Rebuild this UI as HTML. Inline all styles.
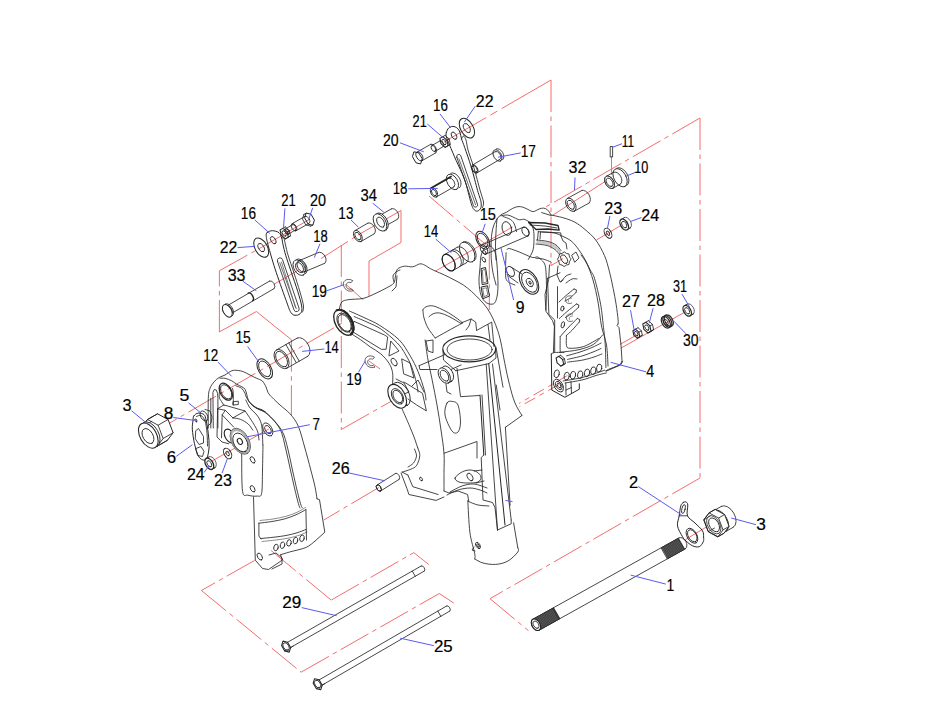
<!DOCTYPE html>
<html><head><meta charset="utf-8"><style>html,body{margin:0;padding:0;background:#fff;width:932px;height:720px;overflow:hidden}svg{display:block}</style></head>
<body>
<svg width="932" height="720" viewBox="0 0 932 720">
<rect width="932" height="720" fill="#fff"/>
<g stroke="#f46d6d" stroke-width="1" fill="none">
<line x1="551.0" y1="80.0" x2="444.0" y2="142.0" stroke-dasharray="57 5 8 5 200"/>
<line x1="551.0" y1="80.0" x2="551.0" y2="265.6" stroke-dasharray="32 4.5 4.5 4.5"/>
<line x1="551.0" y1="265.6" x2="563.0" y2="258.5" />
<line x1="700.0" y1="118.0" x2="544.0" y2="208.0" stroke-dasharray="32 4.5 4.5 4.5"/>
<line x1="700.0" y1="118.0" x2="700.0" y2="478.0" stroke-dasharray="32 4.5 4.5 4.5"/>
<line x1="700.0" y1="478.0" x2="490.0" y2="598.7" stroke-dasharray="32 4.5 4.5 4.5"/>
<line x1="490.0" y1="598.7" x2="528.5" y2="630.7" stroke-dasharray="32 4.5 4.5 4.5"/>
<line x1="685.3" y1="539.7" x2="716.3" y2="521.0" />
<line x1="612.0" y1="177.0" x2="552.4" y2="215.4" />
<line x1="611.5" y1="156.4" x2="611.5" y2="174.8" />
<line x1="627.5" y1="221.5" x2="596.4" y2="240.0" />
<line x1="619.9" y1="344.4" x2="637.2" y2="334.7" />
<line x1="620.8" y1="348.2" x2="687.5" y2="310.6" />
<line x1="219.4" y1="331.9" x2="219.4" y2="270.7" stroke-dasharray="32 4.5 4.5 4.5"/>
<line x1="219.4" y1="270.7" x2="261.0" y2="247.6" stroke-dasharray="32 4.5 4.5 4.5"/>
<line x1="261.0" y1="247.6" x2="310.0" y2="219.0" />
<line x1="219.4" y1="331.9" x2="256.4" y2="311.5" />
<line x1="256.4" y1="311.5" x2="291.4" y2="339.7" />
<line x1="291.4" y1="339.7" x2="291.4" y2="415.0" stroke-dasharray="32 4.5 4.5 4.5"/>
<line x1="273.9" y1="284.3" x2="299.1" y2="269.7" />
<line x1="321.0" y1="258.6" x2="358.0" y2="235.0" stroke-dasharray="32 4.5 4.5 4.5"/>
<line x1="358.0" y1="235.0" x2="401.0" y2="210.5" />
<line x1="401.0" y1="210.5" x2="401.0" y2="242.5" />
<line x1="401.0" y1="242.5" x2="369.0" y2="261.0" />
<line x1="369.0" y1="261.0" x2="369.0" y2="296.0" />
<line x1="341.3" y1="245.0" x2="341.3" y2="429.5" stroke-dasharray="32 4.5 4.5 4.5"/>
<line x1="341.3" y1="429.5" x2="400.0" y2="396.3" stroke-dasharray="32 4.5 4.5 4.5"/>
<line x1="345.8" y1="284.3" x2="363.3" y2="299.9" />
<line x1="369.1" y1="361.1" x2="380.0" y2="368.9" />
<line x1="149.0" y1="435.0" x2="344.0" y2="322.0" stroke-dasharray="32 4.5 4.5 4.5"/>
<line x1="429.0" y1="196.0" x2="489.3" y2="247.6" stroke-dasharray="32 4.5 4.5 4.5"/>
<line x1="489.3" y1="247.6" x2="489.3" y2="310.0" stroke-dasharray="32 4.5 4.5 4.5"/>
<line x1="435.4" y1="271.1" x2="512.5" y2="227.0" />
<line x1="209.9" y1="462.2" x2="268.8" y2="429.0" />
<line x1="378.8" y1="487.5" x2="323.8" y2="520.0" stroke-dasharray="32 4.5 4.5 4.5"/>
<line x1="567.3" y1="375.6" x2="519.0" y2="403.5" stroke-dasharray="12 5 5 5"/>
<line x1="558.7" y1="384.7" x2="519.5" y2="406.7" stroke-dasharray="12 5 5 5"/>
<line x1="254.6" y1="560.4" x2="201.4" y2="590.5" stroke-dasharray="32 4.5 4.5 4.5"/>
<line x1="201.4" y1="590.5" x2="301.1" y2="672.2" stroke-dasharray="32 4.5 4.5 4.5"/>
<line x1="301.1" y1="672.2" x2="439.3" y2="593.5" stroke-dasharray="32 4.5 4.5 4.5"/>
<line x1="439.3" y1="593.5" x2="453.8" y2="603.1" />
<line x1="271.1" y1="550.5" x2="331.2" y2="600.1" stroke-dasharray="32 4.5 4.5 4.5"/>
<line x1="331.2" y1="600.1" x2="413.8" y2="552.6" stroke-dasharray="32 4.5 4.5 4.5"/>
<line x1="413.8" y1="552.6" x2="428.8" y2="564.6" />
</g>
<g stroke="#262626" stroke-width="0.85" fill="none" stroke-linejoin="round" stroke-linecap="round">
<path d="M339.4,309.1 C339.8,307.9 340.2,303.6 341.8,302.0 C343.4,300.4 345.3,300.2 348.9,299.6 C352.4,299.0 358.8,299.4 363.1,298.4 C367.4,297.4 371.0,295.5 374.9,293.7 C378.8,291.9 383.5,289.6 386.7,287.8 C389.9,286.0 392.3,285.1 393.8,283.1 C395.3,281.1 394.9,278.3 395.5,276.0 C396.1,273.7 395.9,270.8 397.4,269.2 C398.9,267.6 401.8,266.6 404.4,266.2 C406.9,265.8 410.1,267.2 412.7,266.8 C415.3,266.4 417.8,264.2 419.8,263.9 C421.8,263.6 422.9,264.3 424.5,265.0 C426.1,265.7 427.4,267.0 429.2,268.0 C431.0,269.0 432.5,269.7 435.1,270.9 C437.7,272.1 441.5,273.6 444.6,275.1 C447.8,276.6 450.9,278.1 454.0,279.8 C457.1,281.5 460.6,283.1 463.5,285.1 C466.4,287.1 468.9,289.2 471.7,291.6 C474.4,294.1 477.4,297.1 480.0,299.8 C482.6,302.6 484.9,305.0 487.1,308.1 C489.3,311.2 491.2,315.0 493.0,318.7 C494.8,322.4 496.4,326.6 497.7,330.5 C499.0,334.4 499.6,336.5 500.8,342.0 C502.0,347.5 503.4,356.3 504.8,363.4 C506.2,370.5 507.8,378.1 509.5,384.7 C511.2,391.3 512.9,397.9 515.0,403.0 C517.1,408.1 520.8,413.4 521.9,415.5" />
<path d="M394.0,282.0 C393.8,281.0 392.7,277.7 393.0,276.0 C393.3,274.3 394.8,273.0 396.0,272.0 C397.2,271.0 399.3,270.3 400.0,270.0" />
<path d="M397.0,276.0 L396.0,287.0 L392.0,291.0" />
<ellipse cx="343.8" cy="322.4" rx="14.0" ry="8.4" transform="rotate(60 343.8 322.4)" stroke-width="1.3"/>
<path d="M350.8,334.5 A14,8.4 60 0 0 336.8,310.3" stroke-width="2.2"/>
<ellipse cx="344.4" cy="322.7" rx="10.5" ry="6.3" transform="rotate(60 344.4 322.7)" />
<ellipse cx="344.6" cy="323.0" rx="9.2" ry="5.5" transform="rotate(60 344.6 323.0)" />
<path d="M349.4,311.0 C352.0,312.2 359.9,315.6 365.0,318.0 C370.1,320.4 374.0,321.8 379.7,325.4 C385.4,329.0 393.9,334.6 399.0,339.7 C404.1,344.8 406.9,350.4 410.1,355.7 C413.3,361.0 415.7,365.8 418.1,371.7 C420.5,377.6 423.2,386.2 424.5,390.9 C425.8,395.6 425.8,398.5 426.0,400.0" />
<path d="M350.0,333.0 C351.8,334.1 357.3,337.5 360.7,339.8 C364.1,342.1 366.8,344.5 370.2,346.9 C373.6,349.2 377.6,351.1 380.8,353.9 C384.0,356.6 387.1,360.2 389.1,363.4 C391.1,366.5 392.0,369.4 392.6,372.8 C393.2,376.2 392.6,382.1 392.6,384.0" />
<path d="M354.2,316.6 C356.5,317.6 363.5,320.4 368.0,322.5 C372.5,324.6 376.4,325.9 381.3,329.3 C386.2,332.7 393.3,338.9 397.3,343.0 C401.3,347.1 402.9,350.1 405.3,354.1 C407.7,358.1 409.8,362.1 411.7,366.9 C413.6,371.7 415.4,378.7 416.5,382.9 C417.6,387.1 417.8,390.5 418.0,392.0" />
<path d="M354.2,321.4 L384.5,335.0 L387.7,337.0 L386.1,349.3 L381.3,349.3 L352.6,331.7 Z" />
<path d="M391.0,341.3 L399.0,351.0 L389.3,355.8 Z" />
<ellipse cx="394.1" cy="362.1" rx="4.2" ry="2.4" transform="rotate(60 394.1 362.1)" />
<path d="M402.0,359.0 L410.0,363.0 L414.0,378.0 L404.0,374.0 Z" />
<path d="M396.0,379.0 L404.0,383.0 L409.0,392.0 L404.0,394.0" />
<ellipse cx="401.0" cy="394.2" rx="13.0" ry="7.8" transform="rotate(60 401.0 394.2)" />
<line x1="403.1" y1="406.4" x2="406.9" y2="404.3" />
<ellipse cx="397.2" cy="396.3" rx="13.0" ry="7.8" transform="rotate(60 397.2 396.3)" stroke-width="1.1" fill="#fff"/>
<ellipse cx="397.5" cy="396.4" rx="8.5" ry="5.2" transform="rotate(60 397.5 396.4)" />
<ellipse cx="397.8" cy="396.5" rx="6.8" ry="4.1" transform="rotate(60 397.8 396.5)" />
<path d="M404.0,382.0 L422.5,393.3 L426.4,410.9 L416.7,405.0 L408.0,399.0" />
<path d="M412.0,386.0 L418.0,380.0 L424.0,392.0" />
<path d="M402.1,408.9 C403.2,411.5 406.9,419.8 408.9,424.5 C410.9,429.2 412.5,433.1 414.0,437.0 C415.5,440.9 417.1,446.0 417.7,447.8" />
<path d="M417.7,447.8 C418.1,449.1 420.0,452.7 419.8,455.6 C419.6,458.5 418.2,463.0 416.7,465.3 C415.2,467.6 413.3,468.1 410.9,469.2 C408.5,470.3 403.6,471.6 402.1,472.1" />
<path d="M414.5,449.0 C414.8,450.2 416.7,453.7 416.5,456.0 C416.3,458.3 414.9,461.2 413.5,463.0 C412.1,464.8 408.9,466.3 408.0,467.0" />
<path d="M401.1,473.1 L407.0,488.7 L408.9,494.5 L436.1,500.4 L444.0,497.0" />
<path d="M407.9,475.1 L412.8,486.7 L438.1,494.5" />
<path d="M402.1,472.1 L407.9,475.1" />
<ellipse cx="421.0" cy="479.0" rx="2.0" ry="1.2" transform="rotate(60 421.0 479.0)" />
<path d="M425.1,340.0 C425.6,343.3 426.8,353.3 428.0,360.0 C429.2,366.7 430.7,372.6 432.2,380.1 C433.7,387.6 435.5,396.7 437.0,405.0 C438.5,413.3 439.8,421.9 441.0,430.0 C442.2,438.1 443.5,446.3 444.0,453.3 C444.5,460.3 444.0,465.9 444.0,472.2 C444.0,478.5 444.0,487.9 444.0,491.0" />
<path d="M444.0,453.3 L477.0,441.5 L477.0,458.0" />
<path d="M444.0,491.0 L449.0,493.0 L458.1,491.0 L467.6,494.5 L468.8,501.6" />
<path d="M457.0,368.3 L460.5,396.7 L479.4,395.5" />
<line x1="480.0" y1="395.0" x2="483.8" y2="455.0" stroke-width="1"/>
<line x1="482.0" y1="395.0" x2="485.5" y2="455.0" />
<path d="M483.8,455.0 L481.2,457.5 L483.0,500.0 L492.5,502.5 L495.0,507.5 L497.5,530.0" />
<line x1="486.2" y1="364.0" x2="497.5" y2="530.0" />
<line x1="488.8" y1="364.0" x2="505.0" y2="525.0" stroke-width="1"/>
<line x1="492.5" y1="364.0" x2="511.2" y2="520.0" />
<path d="M497.5,530.0 L511.2,523.8 L511.2,520.0" />
<path d="M496.2,385.0 L500.0,410.0" />
<path d="M496.0,347.1 L503.0,387.2" />
<path d="M505.4,427.3 L521.9,415.5" />
<path d="M505.4,427.3 L510.1,505.3" />
<path d="M467.8,500.6 C468.1,505.9 468.8,523.5 469.9,532.3 C471.0,541.1 473.9,549.2 474.7,553.6 C475.5,558.0 474.7,558.0 474.7,558.9" />
<path d="M474.7,558.9 C476.1,559.6 479.5,562.1 483.0,563.0 C486.5,563.9 491.4,564.7 495.6,564.4 C499.8,564.1 504.3,563.1 508.0,561.0 C511.7,558.9 516.2,554.2 517.8,552.0 C519.4,549.8 517.8,548.5 517.8,547.8" />
<path d="M517.8,547.8 L513.6,522.8" />
<path d="M468.8,501.6 C470.3,502.2 474.6,504.3 478.0,505.0 C481.4,505.7 487.1,505.8 488.9,506.0" />
<path d="M455.0,478.0 C455.5,476.3 459.5,473.3 462.0,472.0 C464.5,470.7 467.5,470.0 470.0,470.0 C472.5,470.0 475.2,470.8 477.0,472.0 C478.8,473.2 480.8,475.3 481.0,477.0 C481.2,478.7 480.2,481.0 478.0,482.0 C475.8,483.0 471.2,483.0 468.0,483.0 C464.8,483.0 461.2,482.8 459.0,482.0 C456.8,481.2 454.5,479.7 455.0,478.0 Z" />
<ellipse cx="470.0" cy="477.0" rx="4.2" ry="2.4" transform="rotate(60 470.0 477.0)" />
<line x1="474.0" y1="471.0" x2="482.0" y2="470.0" />
<line x1="476.0" y1="483.0" x2="484.0" y2="481.0" />
<path d="M447.0,495.0 C448.8,494.2 454.2,491.2 458.0,490.0 C461.8,488.8 466.3,488.0 470.0,488.0 C473.7,488.0 477.2,489.2 480.0,490.0 C482.8,490.8 485.8,492.5 487.0,493.0" />
<path d="M450.0,492.0 C452.0,491.0 458.0,487.3 462.0,486.0 C466.0,484.7 469.8,483.7 474.0,484.0 C478.2,484.3 484.8,487.3 487.0,488.0" />
<ellipse cx="478.0" cy="545.5" rx="3.5" ry="2.0" transform="rotate(60 478.0 545.5)" />
<ellipse cx="478.0" cy="545.5" rx="1.8" ry="1.0" transform="rotate(60 478.0 545.5)" />
<path d="M474.0,547.0 L472.0,550.0 L475.0,551.0" />
<path d="M447.0,403.0 C448.2,400.7 450.2,401.1 452.0,401.4 C453.8,401.7 456.6,401.6 458.0,405.0 C459.4,408.4 460.5,417.5 460.5,422.0 C460.5,426.5 459.4,430.5 458.0,432.0 C456.6,433.5 454.2,433.8 452.0,431.0 C449.8,428.2 445.8,419.7 445.0,415.0 C444.2,410.3 445.8,405.3 447.0,403.0 Z" />
<ellipse cx="469.2" cy="348.9" rx="26.4" ry="13.0" stroke-width="1.1"/>
<ellipse cx="469.6" cy="349.5" rx="22.5" ry="10.5" />
<path d="M443.0,350.0 L443.5,360.0 L455.8,370.7" />
<path d="M495.6,349.0 L496.0,358.0 L488.9,363.6" />
<path d="M455.8,370.7 L488.9,363.6" />
<path d="M422.9,309.9 C423.4,309.4 424.2,307.4 426.0,306.8 C427.8,306.2 430.3,305.2 433.6,306.0 C436.9,306.8 442.3,309.6 445.9,311.4 C449.5,313.2 452.2,315.1 455.0,317.0 C457.8,318.9 461.4,321.9 462.7,322.9" />
<path d="M429.0,316.8 C429.7,316.3 431.2,314.4 433.0,313.8 C434.8,313.2 437.0,312.5 439.8,313.0 C442.6,313.5 446.5,315.2 450.0,317.0 C453.5,318.8 459.2,322.4 461.0,323.5" />
<path d="M422.9,309.9 C423.1,311.2 423.1,315.0 424.0,318.0 C424.9,321.0 426.1,324.7 428.0,328.0 C429.9,331.3 434.0,336.3 435.2,338.0" />
<path d="M435.2,338.0 C437.0,337.0 442.7,333.8 446.0,332.0 C449.3,330.2 452.2,328.5 455.0,327.0 C457.8,325.5 461.4,323.6 462.7,322.9" />
<path d="M461.2,322.9 L471.1,319.0 L475.7,322.1 L476.5,329.8" />
<path d="M471.1,319.0 L469.0,326.0 L466.0,330.0" />
<path d="M426.0,341.0 L433.0,340.0 L433.0,352.7 L428.0,351.0 L426.0,341.0" />
<path d="M476.5,330.5 L491.7,322.1 L494.0,346.6" />
<path d="M488.0,324.5 L490.0,340.0" />
<path d="M419.1,365.7 L445.9,354.2" />
<path d="M419.1,365.7 L419.9,369.5 L437.0,369.5" />
<path d="M451.0,369.5 L461.2,364.9" />
<ellipse cx="447.5" cy="373.8" rx="8.5" ry="5.2" transform="rotate(60 447.5 373.8)" />
<line x1="448.6" y1="383.0" x2="451.8" y2="381.2" />
<ellipse cx="444.3" cy="375.6" rx="8.5" ry="5.2" transform="rotate(60 444.3 375.6)" fill="#fff"/>
<ellipse cx="444.5" cy="375.7" rx="6.0" ry="3.6" transform="rotate(60 444.5 375.7)" />
<path d="M446.0,384.0 L447.0,392.0 L451.0,394.0" />
<path d="M491.0,245.0 C491.1,243.1 491.3,237.2 491.8,233.8 C492.3,230.4 492.8,227.7 494.0,224.8 C495.2,221.9 497.2,218.3 499.3,216.2 C501.4,214.1 504.6,213.3 506.8,212.0 C509.1,210.7 510.9,209.2 512.8,208.3 C514.7,207.4 516.5,206.8 518.1,206.6 C519.7,206.4 521.1,206.7 522.6,207.1 C524.1,207.5 525.6,208.3 527.1,209.0 C528.6,209.7 530.4,210.9 531.6,211.3 C532.9,211.7 533.4,211.7 534.6,211.3 C535.9,210.9 537.6,209.5 539.1,209.0 C540.6,208.5 542.2,208.0 543.6,208.1 C545.0,208.2 546.3,209.0 547.4,209.8 C548.5,210.6 549.4,212.2 550.0,213.1 C550.6,214.0 550.9,214.7 551.1,215.0" />
<path d="M541.7,212.6 L551.0,215.5" />
<path d="M551.1,215.0 C552.2,215.2 555.9,216.0 558.0,216.5 C560.1,217.0 561.2,217.1 564.0,218.0 C566.8,218.9 571.0,220.1 574.5,222.0 C578.0,223.9 581.5,226.5 585.0,229.5 C588.5,232.5 592.5,235.7 595.7,240.0 C599.0,244.3 602.2,250.4 604.5,255.6 C606.8,260.8 607.8,265.6 609.3,271.1 C610.8,276.6 612.1,283.1 613.2,288.6 C614.3,294.1 615.3,299.0 616.1,304.2 C616.9,309.4 617.8,316.5 618.1,319.8 C618.4,323.1 618.0,323.3 618.0,324.0" />
<path d="M618.0,324.0 L617.1,325.6 L619.0,327.5 L621.0,345.0 L622.0,360.6 L621.0,363.5 L618.1,365.6 L608.7,369.3 L605.5,371.0" />
<path d="M500.8,215.8 C501.9,215.7 505.5,214.8 507.5,215.0 C509.5,215.2 511.0,216.2 512.8,216.9 C514.6,217.7 516.7,219.0 518.1,219.5 C519.5,220.0 520.1,219.8 521.1,219.7 C522.1,219.6 523.0,219.0 524.1,219.2 C525.2,219.4 526.7,220.3 527.8,221.0 C528.9,221.7 529.9,222.1 530.8,223.3 C531.7,224.6 532.6,226.4 533.1,228.5 C533.6,230.6 534.0,232.5 534.0,236.0 C534.0,239.5 534.1,245.8 533.1,249.7 C532.1,253.6 529.1,257.8 528.3,259.4" />
<path d="M541.7,232.0 C543.8,232.2 550.6,232.2 554.3,233.0 C558.0,233.8 561.1,235.5 564.0,236.9 C566.9,238.3 569.4,239.4 571.8,241.5 C574.2,243.6 576.4,246.5 578.6,249.5 C580.8,252.5 583.1,256.1 585.0,259.5 C586.9,262.9 588.6,266.8 590.2,270.0 C591.8,273.2 593.0,273.2 594.7,278.9 C596.4,284.6 599.1,296.1 600.6,304.2 C602.1,312.3 602.9,322.3 603.5,327.5 C604.1,332.7 604.2,331.6 604.5,335.3 C604.8,339.1 605.3,344.6 605.5,350.0 C605.7,355.4 605.8,364.6 605.9,367.5" />
<path d="M581.0,255.0 C582.0,256.5 585.0,259.8 587.0,264.0 C589.0,268.2 591.2,273.7 593.0,280.0 C594.8,286.3 596.6,294.3 598.0,302.0 C599.4,309.7 600.1,318.8 601.5,326.0 C602.9,333.2 605.4,338.3 606.5,345.0 C607.6,351.7 607.8,362.5 608.0,366.0" />
<path d="M528.6,222.5 L545.0,223.0 L558.0,225.5 L559.2,230.1 L548.0,229.0 L536.0,229.5 Z" stroke-width="1.3"/>
<path d="M530.0,225.0 L545.0,226.0 L557.0,228.0" />
<path d="M553.4,352.5 L554.4,326.2 L552.5,320.6 L545.9,311.2 L545.0,294.4 L548.7,279.4 L549.5,265.0" />
<path d="M551.3,354.0 L551.8,390.1 L564.9,397.3 L579.3,389.2 L579.3,383.8" stroke-width="1"/>
<path d="M551.3,354.0 C551.8,353.8 552.5,352.9 554.0,352.6 C555.5,352.3 558.3,352.4 560.0,352.4 C561.7,352.4 563.3,352.6 564.0,352.6" />
<path d="M566.7,355.8 C568.9,355.2 575.8,353.4 580.0,352.0 C584.2,350.6 588.5,349.0 592.0,347.5 C595.5,346.0 599.5,343.8 601.0,343.1" />
<path d="M567.6,359.4 C570.0,358.8 577.8,357.2 582.0,356.0 C586.2,354.8 589.8,353.2 593.0,352.0 C596.2,350.8 599.7,349.1 601.0,348.5" />
<path d="M567.6,362.1 C570.2,361.8 578.6,360.9 583.0,360.0 C587.4,359.1 590.9,358.0 594.0,357.0 C597.1,356.0 600.6,354.5 601.9,354.0" />
<path d="M563.1,381.0 C565.9,380.5 574.7,379.2 580.0,378.0 C585.3,376.8 590.9,374.8 595.0,373.5 C599.1,372.2 603.0,370.8 604.6,370.2" />
<path d="M565.0,383.0 C567.8,382.5 576.8,381.2 582.0,380.0 C587.2,378.8 591.9,376.7 596.0,375.5 C600.1,374.3 604.7,373.3 606.4,372.9" />
<path d="M606.4,371.1 L620.8,364.8 L622.7,361.2" />
<path d="M565.8,382.9 L566.0,395.0" />
<path d="M571.0,381.5 L571.5,393.5" />
<path d="M566.0,390.0 L571.5,387.5" />
<ellipse cx="556.7" cy="373.8" rx="2.6" ry="3.9" transform="rotate(12 556.7 373.8)"/>
<ellipse cx="566.7" cy="376.1" rx="2.6" ry="3.9" transform="rotate(12 566.7 376.1)"/>
<ellipse cx="573" cy="375.2" rx="2.6" ry="3.9" transform="rotate(12 573 375.2)"/>
<ellipse cx="580.2" cy="374.7" rx="2.6" ry="3.9" transform="rotate(12 580.2 374.7)"/>
<ellipse cx="587" cy="372.9" rx="2.6" ry="3.9" transform="rotate(12 587 372.9)"/>
<ellipse cx="593.3" cy="370.7" rx="2.6" ry="3.9" transform="rotate(12 593.3 370.7)"/>
<ellipse cx="599.2" cy="368" rx="2.6" ry="3.9" transform="rotate(12 599.2 368)"/>
<path d="M563.7,364.5 L562.7,359.6 L558.9,356.3 L556.1,357.9 L557.1,362.8 L560.9,366.1 Z" stroke-width="1.1"/>
<path d="M562.6,365.1 L565.4,363.5 L564.4,358.6 L560.6,355.3" />
<line x1="560.9" y1="366.1" x2="562.6" y2="365.1" />
<line x1="563.7" y1="364.5" x2="565.4" y2="363.5" />
<line x1="562.7" y1="359.6" x2="564.4" y2="358.6" />
<line x1="558.9" y1="356.3" x2="560.6" y2="355.3" />
<ellipse cx="558.5" cy="385.6" rx="7.0" ry="4.2" transform="rotate(60 558.5 385.6)" />
<ellipse cx="558.8" cy="385.5" rx="4.5" ry="2.7" transform="rotate(60 558.8 385.5)" />
<ellipse cx="559.0" cy="385.4" rx="2.5" ry="1.5" transform="rotate(60 559.0 385.4)" />
<path d="M538.3,231.7 L560.8,232.9 L561.0,236.0" />
<path d="M538.3,231.7 L537.5,240.0" />
<path d="M540.5,232.0 L540.0,239.0" />
<path d="M536.5,240.0 C538.4,240.2 544.8,240.7 548.0,241.5 C551.2,242.3 553.8,243.5 556.0,245.0 C558.2,246.5 560.2,249.6 561.0,250.5" />
<path d="M536.0,244.0 C537.8,244.2 543.8,244.6 547.0,245.5 C550.2,246.4 552.9,248.0 555.0,249.5 C557.1,251.0 558.8,253.7 559.5,254.5" />
<path d="M537.0,241.0 C538.8,241.2 544.8,241.6 548.0,242.5 C551.2,243.4 553.9,244.8 556.0,246.3 C558.1,247.8 559.8,250.6 560.5,251.5" stroke="#999" stroke-width="0.5"/>
<path d="M537.0,241.8 C538.8,242.1 544.8,242.4 548.0,243.3 C551.2,244.2 553.9,245.6 556.0,247.1 C558.1,248.6 559.8,251.4 560.5,252.3" stroke="#999" stroke-width="0.5"/>
<path d="M537.0,242.6 C538.8,242.8 544.8,243.2 548.0,244.1 C551.2,245.0 553.9,246.4 556.0,247.9 C558.1,249.4 559.8,252.2 560.5,253.1" stroke="#999" stroke-width="0.5"/>
<path d="M537.0,243.4 C538.8,243.7 544.8,244.0 548.0,244.9 C551.2,245.8 553.9,247.2 556.0,248.7 C558.1,250.2 559.8,253.0 560.5,253.9" stroke="#999" stroke-width="0.5"/>
<path d="M535.8,258.3 C537.0,258.4 540.5,258.4 543.0,259.0 C545.5,259.6 549.7,261.5 551.0,262.0" />
<path d="M561.0,236.0 L563.0,241.0 L566.0,243.0 L567.0,249.0" />
<path d="M547.5,278.3 L548.9,314.4 L554.7,320.0 L554.7,351.9" />
<path d="M547.5,278.3 L560.0,272.8" />
<path d="M557.5,286.7 L557.5,318.0" />
<path d="M560.2,336.6 C561.5,335.2 564.9,331.1 567.8,328.1 C570.6,325.0 575.7,320.1 577.3,318.5" />
<path d="M566.2,335.6 C567.2,334.7 570.1,332.3 572.2,330.1 C574.4,327.8 578.1,323.3 579.3,322.0" />
<path d="M577.3,318.5 L579.8,319.5 L579.3,322.0" />
<path d="M559.3,318.5 C560.6,317.4 564.0,314.2 566.8,311.8 C569.7,309.3 574.8,305.3 576.4,304.0" />
<path d="M565.3,317.5 C566.3,316.9 569.2,315.4 571.3,313.8 C573.5,312.1 577.2,308.5 578.4,307.5" />
<path d="M576.4,304.0 L578.9,305.0 L578.4,307.5" />
<path d="M559.0,302.0 C560.1,301.0 563.0,298.2 565.5,296.0 C568.0,293.8 572.6,290.2 574.0,289.0" />
<path d="M565.0,301.0 C565.8,300.5 568.2,299.4 570.0,298.0 C571.8,296.6 575.0,293.4 576.0,292.5" />
<path d="M574.0,289.0 L576.5,290.0 L576.0,292.5" />
<path d="M566.5,335.7 C566.5,337.4 565.9,343.5 566.5,345.6 C567.1,347.7 567.2,348.2 570.1,348.3 C573.0,348.4 578.9,348.1 583.7,346.5 C588.5,344.9 596.5,339.8 599.0,338.4" />
<path d="M560.2,336.6 C560.2,339.0 560.0,348.4 560.2,351.0 C560.4,353.6 558.4,352.2 561.5,352.0 C564.6,351.8 573.8,350.9 579.1,349.6 C584.5,348.3 589.7,346.7 593.6,344.3 C597.5,341.9 601.1,336.6 602.6,335.0" />
<path d="M572.6,314 C567.6,313 565.6,316 566.6,319 C567.6,322 570.6,322 572.6,321" stroke="#555"/>
<path d="M572.6,316 C569.6,316 568.6,318 569.6,320" stroke="#777"/>
<path d="M571.7,296 C566.7,295 564.7,298 565.7,301 C566.7,304 569.7,304 571.7,303" stroke="#555"/>
<path d="M571.7,298 C568.7,298 567.7,300 568.7,302" stroke="#777"/>
<ellipse cx="562.9" cy="324.8" rx="1.6" ry="3.2" transform="rotate(15 562.9 324.8)"/>
<ellipse cx="562.4" cy="308.5" rx="1.5" ry="2.6" transform="rotate(15 562.4 308.5)"/>
<path d="M561.0,282.0 C561.8,281.0 564.3,277.3 566.0,276.0 C567.7,274.7 570.2,274.3 571.0,274.0" />
<path d="M566.0,283.0 C567.0,282.3 570.2,279.7 572.0,279.0 C573.8,278.3 576.2,279.0 577.0,279.0" />
<path d="M570.9,259.2 L569.5,261.6 L568.9,264.5 L566.4,265.0 L564.2,266.6 L562.0,265.0 L559.5,264.5 L558.9,261.6 L557.5,259.2 L558.9,256.8 L559.5,253.9 L562.0,253.4 L564.2,251.8 L566.4,253.4 L568.9,253.9 L569.5,256.8 Z" />
<ellipse cx="564.2" cy="259.2" rx="4.8" ry="2.8" transform="rotate(60 564.2 259.2)" />
<path d="M558.0,266.0 L557.0,275.0 L560.0,282.0 L563.0,280.0" />
<path d="M572.0,255.0 L576.0,252.0 L579.0,258.0 L575.0,262.0 Z" />
<path d="M491.0,245.0 C491.1,247.4 491.0,254.8 491.3,259.4 C491.6,263.9 492.1,268.0 492.9,272.3 C493.7,276.6 495.6,283.0 496.1,285.1" />
<path d="M497.0,218.8 C496.8,221.0 496.2,227.6 496.0,232.0 C495.8,236.4 495.5,240.3 495.5,245.0 C495.5,249.7 495.9,257.5 496.0,260.0" />
<path d="M503.0,216.5 C504.2,217.0 508.6,218.2 510.5,219.5 C512.4,220.8 513.3,222.0 514.3,224.0 C515.3,226.0 516.1,230.3 516.5,231.6" />
<ellipse cx="506.8" cy="228.5" rx="4.6" ry="7" transform="rotate(-15 506.8 228.5)"/>
<path d="M507.2,249.6 C507.6,249.4 507.2,248.1 509.3,248.5 C511.4,248.9 515.9,250.7 519.7,252.2 C523.5,253.7 529.2,256.6 532.2,257.4 C535.2,258.2 535.9,256.5 537.4,256.9 C538.9,257.3 540.3,258.8 541.5,260.0 C542.7,261.2 544.0,262.2 544.7,264.2 C545.5,266.2 545.7,267.7 546.0,272.0 C546.3,276.3 546.5,283.7 546.5,290.0 C546.5,296.3 546.1,306.7 546.0,310.0" />
<path d="M506.1,252.7 C506.0,256.5 505.2,270.7 505.6,275.6 C506.0,280.5 506.6,280.3 508.2,281.9 C509.8,283.5 513.9,284.5 515.0,285.0" />
<line x1="486.5" y1="253.8" x2="528.1" y2="235.9" />
<line x1="481.5" y1="245.2" x2="523.1" y2="227.3" />
<ellipse cx="484.0" cy="249.5" rx="5.0" ry="3.2" transform="rotate(60 484.0 249.5)" />
<path d="M528.1,235.9 A5.0,3.2 60 0 0 523.1,227.3" />
<ellipse cx="525.6" cy="231.6" rx="5.0" ry="3.2" transform="rotate(60 525.6 231.6)" />
<line x1="511.0" y1="267.0" x2="522.0" y2="274.0" />
<line x1="507.0" y1="275.0" x2="518.0" y2="283.0" />
<ellipse cx="510.5" cy="271.5" rx="5.5" ry="3.5" transform="rotate(60 510.5 271.5)" />
<ellipse cx="529.0" cy="281.9" rx="13.4" ry="8.2" transform="rotate(60 529.0 281.9)" stroke-width="1.1"/>
<ellipse cx="529.5" cy="282.3" rx="11.0" ry="6.6" transform="rotate(60 529.5 282.3)" />
<ellipse cx="529.8" cy="282.5" rx="4.5" ry="3.0" transform="rotate(60 529.8 282.5)" />
<ellipse cx="530.0" cy="282.6" rx="1.5" ry="1.0" transform="rotate(60 530.0 282.6)" />
<path d="M484.3,248.5 C482.8,250.2 481.7,253.0 481.0,256.0 C480.3,259.0 480.4,262.0 480.1,266.3 C479.8,270.6 478.8,277.0 479.0,281.9 C479.2,286.8 479.9,291.9 481.1,295.4 C482.3,298.9 484.2,301.3 486.3,302.7 C488.4,304.1 491.9,304.7 493.6,303.8 C495.4,302.9 496.1,300.6 496.8,297.5 C497.5,294.4 498.0,290.4 498.0,285.0 C498.0,279.6 497.5,270.5 497.0,265.0 C496.5,259.5 496.2,255.2 495.0,252.0 C493.8,248.8 491.8,246.6 490.0,246.0 C488.2,245.4 485.8,246.8 484.3,248.5 Z" />
<path d="M481.5,268.5 L485.5,267.5 L488.0,283.5 L482.5,284.5 Z" stroke-width="1"/>
<path d="M482.8,270.0 L485.0,269.5 L486.6,282.0 L483.5,282.8 Z" stroke="#666"/>
<path d="M481.5,287.0 L487.5,285.8 L489.5,296.0 L483.5,298.5 Z" stroke-width="1"/>
<path d="M483.0,288.5 L486.5,287.8 L487.8,295.0 L484.5,296.5 Z" stroke="#666"/>
<ellipse cx="483.8" cy="259.7" rx="2.6" ry="1.5" transform="rotate(60 483.8 259.7)" />
<ellipse cx="484.5" cy="252.5" rx="2.2" ry="1.3" transform="rotate(60 484.5 252.5)" />
<path d="M208.3,428.0 C208.3,423.1 208.0,404.9 208.3,398.3 C208.6,391.7 209.0,391.1 210.0,388.3 C211.0,385.5 212.7,383.5 214.2,381.7 C215.7,379.9 217.4,378.6 219.2,377.5 C221.0,376.4 222.9,376.1 225.0,375.0 C227.1,373.9 229.6,371.6 231.7,370.8 C233.8,370.0 235.6,370.2 237.5,370.4 C239.4,370.5 241.2,370.9 243.3,371.7 C245.4,372.5 247.8,373.9 250.0,375.0 C252.2,376.1 254.6,377.3 256.7,378.3 C258.8,379.3 260.8,379.6 262.3,381.0 C263.9,382.4 265.0,384.9 266.0,386.9 C267.0,388.8 267.0,390.9 268.1,392.7 C269.2,394.5 270.5,395.8 272.5,397.8 C274.5,399.9 277.1,402.3 280.0,405.0 C282.9,407.7 286.9,410.2 290.0,413.8 C293.1,417.3 295.9,420.7 298.3,426.2 C300.7,431.8 302.5,439.7 304.6,447.0 C306.7,454.3 309.1,463.4 310.8,470.0 C312.5,476.6 314.0,481.9 315.0,486.7 C316.0,491.5 316.7,496.8 317.0,498.8" />
<path d="M317.0,498.8 L319.5,499.7 L324.8,532.2 L314.9,541.2" />
<path d="M314.9,541.2 C313.4,542.2 310.1,545.7 305.9,547.5 C301.7,549.3 293.8,550.8 289.6,552.0 C285.4,553.2 282.1,554.3 280.6,554.8" />
<path d="M280.6,554.8 L282.4,560.0 L268.5,569.5 L262.5,568.5 L255.3,560.2 L253.5,497.0" />
<path d="M213.3,428.0 L212.9,392.5 L214.2,389.6 L216.3,390.0 L217.5,393.3 L217.9,398.3 L217.9,428.0" />
<path d="M210.8,428.0 L210.8,398.3" />
<path d="M220.0,378.3 C220.8,378.3 223.1,377.9 225.0,378.3 C226.9,378.7 229.8,379.8 231.7,380.8 C233.6,381.8 235.0,383.2 236.7,384.2 C238.4,385.2 240.3,385.9 241.7,386.7 C243.1,387.5 244.2,387.9 245.0,389.2 C245.8,390.4 246.1,392.4 246.7,394.2 C247.2,396.0 247.5,398.3 248.3,400.0 C249.1,401.7 250.0,402.7 251.7,404.2 C253.4,405.7 256.1,407.9 258.3,409.2 C260.5,410.4 263.9,411.3 265.0,411.7" />
<path d="M235.8,385.8 C236.8,386.2 240.2,387.1 241.7,388.3 C243.2,389.6 244.2,391.9 245.0,393.3 C245.8,394.8 245.0,395.0 246.2,397.0 C247.5,399.0 249.0,402.6 252.5,405.4 C256.0,408.2 262.1,409.6 267.0,413.8 C271.9,417.9 278.2,424.5 281.7,430.4 C285.2,436.3 286.2,442.9 287.9,449.2 C289.6,455.5 290.6,461.8 292.0,468.0 C293.4,474.2 294.9,480.8 296.2,486.7 C297.6,492.6 299.4,499.8 300.4,503.3 C301.4,506.8 302.0,507.1 302.3,507.8" />
<path d="M250.4,403.3 C251.3,404.1 253.6,406.6 256.0,408.0 C258.4,409.4 261.1,408.3 265.0,411.7 C268.9,415.1 276.1,422.1 279.6,428.3 C283.1,434.6 284.1,442.6 285.8,449.2 C287.5,455.8 288.6,461.8 290.0,468.0 C291.4,474.2 292.8,480.8 294.2,486.7 C295.6,492.6 297.3,499.8 298.3,503.3 C299.3,506.9 299.7,507.2 300.0,508.0" />
<path d="M245.8,400.0 C246.5,401.3 248.3,405.7 250.0,408.0 C251.7,410.3 254.3,412.0 256.0,414.0 C257.7,416.0 259.0,417.7 260.0,420.0 C261.0,422.3 261.5,423.8 262.0,428.0 C262.5,432.2 262.7,442.2 262.8,445.0" />
<path d="M258.9,523.2 C261.1,522.9 267.6,522.2 272.0,521.5 C276.4,520.8 281.0,519.9 285.0,518.8 C289.0,517.7 292.5,516.3 296.0,514.8 C299.5,513.3 304.2,510.5 305.9,509.6" />
<path d="M260.0,520.5 C262.2,520.2 268.7,519.7 273.0,519.0 C277.3,518.3 282.0,517.4 286.0,516.3 C290.0,515.2 293.8,513.8 297.0,512.3 C300.2,510.8 304.1,508.3 305.5,507.5" stroke="#777"/>
<path d="M260.7,538.5 C262.9,538.3 269.8,537.7 274.0,537.2 C278.2,536.7 282.2,536.2 286.0,535.5 C289.8,534.8 293.7,533.8 297.0,532.8 C300.3,531.8 304.4,530.0 305.9,529.5" />
<path d="M262.0,541.5 C264.3,541.2 271.5,540.6 276.0,540.0 C280.5,539.4 285.0,538.8 289.0,538.0 C293.0,537.2 297.0,536.0 300.0,535.0 C303.0,534.0 305.8,532.5 307.0,532.0" stroke="#777"/>
<path d="M258.9,523.2 L258.9,536.0 L261.0,539.0" />
<path d="M305.9,509.6 L306.5,540.0" />
<ellipse cx="276.0" cy="547.5" rx="2.2" ry="3.3" transform="rotate(15 276.0 547.5)"/>
<ellipse cx="282.5" cy="545.2" rx="2.2" ry="3.3" transform="rotate(15 282.5 545.2)"/>
<ellipse cx="289.0" cy="542.9" rx="2.2" ry="3.3" transform="rotate(15 289.0 542.9)"/>
<ellipse cx="295.5" cy="540.6" rx="2.2" ry="3.3" transform="rotate(15 295.5 540.6)"/>
<ellipse cx="302.0" cy="538.3" rx="2.2" ry="3.3" transform="rotate(15 302.0 538.3)"/>
<ellipse cx="259.8" cy="556.6" rx="3.8" ry="2.2" transform="rotate(60 259.8 556.6)" />
<path d="M269.0,555.0 L276.0,553.0 L282.0,558.0 L282.0,564.0 L272.0,569.0" />
<path d="M241.7,445.0 C241.7,446.7 241.5,447.2 241.7,455.0 C241.8,462.8 241.5,484.8 242.6,491.5 C243.7,498.2 245.6,494.4 248.0,495.2 C250.4,496.0 254.8,496.4 257.1,496.1 C259.4,495.8 260.7,497.8 261.6,493.4 C262.5,489.0 262.3,478.1 262.5,470.0 C262.7,461.9 262.9,449.2 263.0,445.0" />
<ellipse cx="252.6" cy="459.9" rx="3.5" ry="2.0" transform="rotate(60 252.6 459.9)" />
<ellipse cx="252.6" cy="488.8" rx="3.5" ry="2.0" transform="rotate(60 252.6 488.8)" />
<ellipse cx="225.8" cy="391.7" rx="9.3" ry="5.6" transform="rotate(60 225.8 391.7)" stroke-width="1.2"/>
<ellipse cx="226.2" cy="391.9" rx="7.8" ry="4.7" transform="rotate(60 226.2 391.9)" />
<path d="M220.0,386.7 C219.9,388.4 218.9,394.2 219.2,396.7 C219.5,399.2 220.9,400.2 221.7,401.7 C222.5,403.2 223.8,405.1 224.2,405.8" />
<path d="M232.5,388.3 C232.6,389.1 233.2,390.5 233.3,393.3 C233.4,396.1 233.3,403.1 233.3,405.0" />
<path d="M233.3,401.7 L238.3,401.2 L238.3,404.5 L233.3,405.0 Z" />
<path d="M217.6,408.8 L223.8,404.9 L245.1,411.0 L232.9,417.9" />
<path d="M217.6,408.8 L225.3,410.3 L232.9,417.9" />
<path d="M217.6,408.8 L217.0,437.0 L222.0,442.0 L228.8,443.8" />
<path d="M225.3,410.3 L222.2,414.9 L221.5,437.8" />
<path d="M222.2,414.9 L233.7,427.1" />
<path d="M232.9,417.9 C234.2,418.1 238.1,418.4 240.6,419.4 C243.1,420.4 246.2,422.2 248.2,424.0 C250.2,425.8 252.0,429.1 252.8,430.1" />
<path d="M245.1,411.0 C246.1,412.5 249.2,416.9 251.3,420.2 C253.4,423.5 256.1,427.6 257.4,430.9 C258.7,434.2 258.7,438.5 259.0,440.0" />
<ellipse cx="267.8" cy="429.5" rx="7.2" ry="4.2" transform="rotate(60 267.8 429.5)" />
<ellipse cx="268.0" cy="429.6" rx="4.5" ry="2.6" transform="rotate(60 268.0 429.6)" />
<ellipse cx="229.6" cy="436.0" rx="7.5" ry="4.5" transform="rotate(60 229.6 436.0)" stroke-width="1.1"/>
<ellipse cx="240.3" cy="441.3" rx="14.2" ry="8.5" transform="rotate(60 240.3 441.3)" stroke="#444" fill="#fff"/>
<ellipse cx="240.2" cy="441.4" rx="13.6" ry="8.2" transform="rotate(60 240.2 441.4)" stroke="#999" stroke-width="0.6"/>
<ellipse cx="240.2" cy="441.4" rx="13.0" ry="7.8" transform="rotate(60 240.2 441.4)" stroke="#999" stroke-width="0.6"/>
<ellipse cx="240.1" cy="441.4" rx="12.4" ry="7.4" transform="rotate(60 240.1 441.4)" stroke="#999" stroke-width="0.6"/>
<ellipse cx="240.1" cy="441.4" rx="11.8" ry="7.1" transform="rotate(60 240.1 441.4)" stroke="#999" stroke-width="0.6"/>
<ellipse cx="240.4" cy="442.5" rx="10.2" ry="6.5" transform="rotate(60 240.4 442.5)" />
<ellipse cx="239.9" cy="441.4" rx="3.2" ry="2.3" transform="rotate(60 239.9 441.4)" stroke-width="1.1"/>
<path d="M193.8,416.0 C194.7,414.8 196.4,413.3 198.1,413.1 C199.8,412.9 202.7,413.4 204.0,414.6 C205.3,415.8 205.4,417.2 206.1,420.4 C206.8,423.6 207.8,429.2 208.3,433.6 C208.8,438.0 209.3,442.6 209.1,446.7 C208.9,450.8 208.0,456.1 206.9,458.3 C205.8,460.5 204.0,460.3 202.5,459.8 C201.0,459.3 199.4,458.1 198.1,455.4 C196.8,452.7 195.5,448.2 194.5,443.8 C193.5,439.4 192.6,433.1 192.3,429.2 C192.1,425.3 192.8,422.6 193.0,420.4 C193.2,418.2 193.0,417.2 193.8,416.0 Z" stroke-width="1"/>
<path d="M196.5,416.5 C197.2,416.3 199.6,414.8 201.0,415.5 C202.4,416.2 204.0,418.1 205.0,421.0 C206.0,423.9 206.6,428.8 207.0,433.0 C207.4,437.2 207.4,443.8 207.5,446.0" />
<path d="M196.0,430.5 L198.5,428.5 L203.5,436.5 L203.5,443.0 L199.0,444.5 L195.5,439.0 Z" />
<path d="M196.0,448.5 L201.0,446.5 L204.0,451.5 L202.5,456.5 L198.0,455.5 Z" />
<ellipse cx="195.9" cy="420.4" rx="1.6" ry="0.9" transform="rotate(60 195.9 420.4)" />
<ellipse cx="204.0" cy="416.0" rx="5.5" ry="3.3" transform="rotate(60 204.0 416.0)" />
<path d="M205.0,409.5 L210.0,411.0 L212.0,417.0 L211.0,423.0 L207.0,427.0" />
<ellipse cx="211.9" cy="462.3" rx="6.2" ry="3.7" transform="rotate(60 211.9 462.3)" stroke="#555"/>
<line x1="212.4" y1="469.2" x2="215.0" y2="467.7" />
<line x1="206.2" y1="458.4" x2="208.8" y2="456.9" />
<ellipse cx="209.3" cy="463.8" rx="6.2" ry="3.7" transform="rotate(60 209.3 463.8)" stroke-width="1.3" fill="#fff"/>
<ellipse cx="209.3" cy="463.8" rx="3.4" ry="2.0" transform="rotate(60 209.3 463.8)" />
<path d="M141.9,427.1 L147.5,419.5 L157.5,413.8 L168.1,419.5 L173.1,432.8 L167.4,440.3 L157.5,446.1 L146.9,440.4 Z" fill="#fff" stroke-width="1"/>
<path d="M157.5,446.1 L163.1,438.5 L158.1,425.2 L147.5,419.5 L141.9,427.1 L146.9,440.4 Z" />
<line x1="157.5" y1="446.1" x2="167.4" y2="440.3" />
<line x1="163.1" y1="438.5" x2="173.1" y2="432.8" />
<line x1="158.1" y1="425.2" x2="168.1" y2="419.5" />
<line x1="147.5" y1="419.5" x2="157.5" y2="413.8" />
<line x1="141.9" y1="427.1" x2="151.8" y2="421.3" />
<line x1="146.9" y1="440.4" x2="156.8" y2="434.6" />
<ellipse cx="150.3" cy="434.4" rx="13.7" ry="8.2" transform="rotate(60 150.3 434.4)" fill="#fff"/>
<ellipse cx="148.3" cy="435.6" rx="13.7" ry="8.2" transform="rotate(60 148.3 435.6)" stroke-width="1.1" fill="#fff"/>
<ellipse cx="148.0" cy="436.1" rx="8.2" ry="5.0" transform="rotate(60 148.0 436.1)" />
<line x1="726.0" y1="531.4" x2="733.5" y2="527.1" />
<line x1="714.0" y1="510.6" x2="721.5" y2="506.3" />
<ellipse cx="720.0" cy="521.0" rx="12.0" ry="7.2" transform="rotate(60 720.0 521.0)" />
<path d="M733.5,527.1 A12.0,7.2 60 0 0 721.5,506.3" />
<path d="M704.0,519.7 L709.0,512.9 L715.1,509.4 L724.6,514.5 L729.1,526.4 L724.0,533.2 L718.0,536.7 L708.4,531.6 Z" fill="#fff" stroke-width="1"/>
<path d="M718.0,536.7 L723.0,529.9 L718.6,518.0 L709.0,512.9 L704.0,519.7 L708.4,531.6 Z" />
<line x1="718.0" y1="536.7" x2="724.0" y2="533.2" />
<line x1="723.0" y1="529.9" x2="729.1" y2="526.4" />
<line x1="718.6" y1="518.0" x2="724.6" y2="514.5" />
<line x1="709.0" y1="512.9" x2="715.1" y2="509.4" />
<line x1="704.0" y1="519.7" x2="710.0" y2="516.2" />
<line x1="708.4" y1="531.6" x2="714.5" y2="528.1" />
<ellipse cx="713.8" cy="524.8" rx="10.0" ry="6.0" transform="rotate(60 713.8 524.8)" stroke="#444"/>
<ellipse cx="714.1" cy="524.9" rx="7.6" ry="4.6" transform="rotate(60 714.1 524.9)" />
<path d="M683.3,502.5 C684.2,501.9 685.2,501.6 686.0,502.0 C686.8,502.4 687.5,502.7 687.8,505.0 C688.0,507.3 686.3,512.8 687.5,515.8 C688.7,518.8 692.5,520.5 695.0,523.0 C697.5,525.5 701.1,528.5 702.5,530.8 C703.9,533.1 703.5,535.2 703.6,537.0 C703.7,538.8 704.0,540.1 703.3,541.7 C702.6,543.3 701.0,546.0 699.2,546.7 C697.4,547.4 694.7,546.8 692.5,545.8 C690.3,544.8 687.7,542.5 686.0,541.0 C684.3,539.5 683.9,539.2 682.5,536.7 C681.1,534.2 678.0,529.3 677.5,525.8 C677.0,522.3 678.7,519.1 679.2,515.8 C679.8,512.5 680.1,508.0 680.8,505.8 C681.5,503.6 682.4,503.1 683.3,502.5 Z" stroke-width="1"/>
<ellipse cx="692.0" cy="535.8" rx="8.2" ry="4.9" transform="rotate(60 692.0 535.8)" />
<ellipse cx="692.3" cy="535.8" rx="6.6" ry="4.0" transform="rotate(60 692.3 535.8)" />
<ellipse cx="683.5" cy="509" rx="1.6" ry="4.5" transform="rotate(12 683.5 509)"/>
<path d="M679.2,515.8 L687.5,515.8" />
<line x1="539.1" y1="630.2" x2="685.4" y2="548.8" />
<line x1="532.9" y1="619.2" x2="679.1" y2="537.8" />
<ellipse cx="536.0" cy="624.7" rx="6.3" ry="4.0" transform="rotate(60 536.0 624.7)" stroke-width="1.1"/>
<ellipse cx="536.0" cy="624.7" rx="4.0" ry="2.5" transform="rotate(60 536.0 624.7)" />
<path d="M685.4,548.8 A6.3,4.0 60 0 0 679.1,537.8" />
<path d="M534.4,618.4 L553.6,607.8 L559.9,618.7 L540.6,629.4 Z" fill="#3a3a3a" stroke="#222"/>
<line x1="534.7" y1="619.0" x2="540.3" y2="628.8" stroke-width="0.5" stroke="#777"/>
<line x1="536.0" y1="618.3" x2="541.6" y2="628.1" stroke-width="0.5" stroke="#777"/>
<line x1="537.3" y1="617.5" x2="543.0" y2="627.4" stroke-width="0.5" stroke="#777"/>
<line x1="538.6" y1="616.8" x2="544.3" y2="626.6" stroke-width="0.5" stroke="#777"/>
<line x1="539.9" y1="616.1" x2="545.6" y2="625.9" stroke-width="0.5" stroke="#777"/>
<line x1="541.2" y1="615.4" x2="546.9" y2="625.2" stroke-width="0.5" stroke="#777"/>
<line x1="542.5" y1="614.6" x2="548.2" y2="624.4" stroke-width="0.5" stroke="#777"/>
<line x1="543.8" y1="613.9" x2="549.5" y2="623.7" stroke-width="0.5" stroke="#777"/>
<line x1="545.2" y1="613.2" x2="550.8" y2="623.0" stroke-width="0.5" stroke="#777"/>
<line x1="546.5" y1="612.4" x2="552.1" y2="622.3" stroke-width="0.5" stroke="#777"/>
<line x1="547.8" y1="611.7" x2="553.4" y2="621.5" stroke-width="0.5" stroke="#777"/>
<line x1="549.1" y1="611.0" x2="554.8" y2="620.8" stroke-width="0.5" stroke="#777"/>
<line x1="550.4" y1="610.3" x2="556.1" y2="620.1" stroke-width="0.5" stroke="#777"/>
<line x1="551.7" y1="609.5" x2="557.4" y2="619.4" stroke-width="0.5" stroke="#777"/>
<path d="M661.4,547.7 L678.4,538.3 L684.7,549.2 L667.6,558.7 Z" fill="#3a3a3a" stroke="#222"/>
<line x1="661.7" y1="548.3" x2="667.3" y2="558.1" stroke-width="0.5" stroke="#777"/>
<line x1="663.0" y1="547.6" x2="668.6" y2="557.4" stroke-width="0.5" stroke="#777"/>
<line x1="664.3" y1="546.8" x2="670.0" y2="556.7" stroke-width="0.5" stroke="#777"/>
<line x1="665.6" y1="546.1" x2="671.3" y2="555.9" stroke-width="0.5" stroke="#777"/>
<line x1="666.9" y1="545.4" x2="672.6" y2="555.2" stroke-width="0.5" stroke="#777"/>
<line x1="668.2" y1="544.7" x2="673.9" y2="554.5" stroke-width="0.5" stroke="#777"/>
<line x1="669.5" y1="543.9" x2="675.2" y2="553.7" stroke-width="0.5" stroke="#777"/>
<line x1="670.8" y1="543.2" x2="676.5" y2="553.0" stroke-width="0.5" stroke="#777"/>
<line x1="672.2" y1="542.5" x2="677.8" y2="552.3" stroke-width="0.5" stroke="#777"/>
<line x1="673.5" y1="541.7" x2="679.1" y2="551.6" stroke-width="0.5" stroke="#777"/>
<line x1="674.8" y1="541.0" x2="680.4" y2="550.8" stroke-width="0.5" stroke="#777"/>
<line x1="676.1" y1="540.3" x2="681.8" y2="550.1" stroke-width="0.5" stroke="#777"/>
<line x1="677.4" y1="539.6" x2="683.1" y2="549.4" stroke-width="0.5" stroke="#777"/>
<ellipse cx="536.0" cy="624.7" rx="6.3" ry="4.0" transform="rotate(60 536.0 624.7)" stroke-width="1.1" fill="#fff"/>
<ellipse cx="536.0" cy="624.7" rx="4.0" ry="2.5" transform="rotate(60 536.0 624.7)" />
<line x1="290.2" y1="647.7" x2="424.3" y2="571.1" />
<line x1="287.2" y1="642.5" x2="421.3" y2="565.9" />
<path d="M424.3,571.1 A3.0,1.6 60 0 0 421.3,565.9" />
<line x1="412.3" y1="571.1" x2="415.3" y2="576.3" />
<path d="M289.2,652.1 L290.6,647.6 L287.5,642.2 L283.0,641.1 L281.6,645.6 L284.7,651.0 Z" stroke-width="1.1"/>
<ellipse cx="286.1" cy="646.6" rx="4.2" ry="2.6" transform="rotate(60 286.1 646.6)" />
<line x1="290.6" y1="647.6" x2="293.2" y2="646.1" />
<line x1="284.7" y1="651.0" x2="287.3" y2="649.5" />
<line x1="321.8" y1="685.3" x2="449.8" y2="611.1" />
<line x1="318.8" y1="680.1" x2="446.8" y2="605.9" />
<path d="M449.8,611.1 A3.0,1.6 60 0 0 446.8,605.9" />
<line x1="437.8" y1="611.1" x2="440.8" y2="616.3" />
<path d="M320.8,689.7 L322.2,685.2 L319.1,679.8 L314.6,678.7 L313.2,683.2 L316.3,688.6 Z" stroke-width="1.1"/>
<ellipse cx="317.7" cy="684.2" rx="4.2" ry="2.6" transform="rotate(60 317.7 684.2)" />
<line x1="322.2" y1="685.2" x2="324.8" y2="683.7" />
<line x1="316.3" y1="688.6" x2="318.9" y2="687.1" />
<path d="M446.4,132.4 C446.8,131.0 447.5,129.1 448.6,128.1 C449.7,127.1 451.5,126.4 452.9,126.4 C454.3,126.4 456.0,127.1 457.2,128.1 C458.4,129.1 459.3,130.6 460.0,132.4 C460.7,134.2 460.7,136.4 461.5,138.9 C462.3,141.4 463.1,142.8 464.7,147.5 C466.3,152.2 469.0,159.7 471.2,166.9 C473.4,174.1 476.0,184.9 477.6,190.6 C479.2,196.3 480.3,198.4 480.9,201.3 C481.4,204.2 481.4,206.2 480.9,207.8 C480.3,209.4 478.7,210.7 477.6,211.0 C476.5,211.3 475.5,211.2 474.4,209.9 C473.3,208.7 472.8,208.5 471.2,203.5 C469.6,198.5 467.2,187.0 464.7,179.8 C462.2,172.6 458.6,166.2 456.1,160.4 C453.6,154.7 451.3,149.2 449.7,145.3 C448.1,141.4 446.9,138.8 446.4,136.7 C445.8,134.5 446.0,133.8 446.4,132.4 Z" stroke-width="1"/>
<path d="M456.8,157.2 L473.5,205.7 A2.1,2.1 0 0 0 477.5,204.3 L460.8,155.8 A2.1,2.1 0 0 0 456.8,157.2 Z"/>
<path d="M458.9,158.7 L475.6,204.7" stroke="#555"/>
<ellipse cx="454.0" cy="135.7" rx="4.0" ry="2.3" transform="rotate(60 454.0 135.7)" />
<path d="M461.5,138.9 C461.8,138.4 462.8,135.8 463.5,136.0 C464.2,136.2 465.2,137.7 466.0,140.0 C466.8,142.3 466.7,145.3 468.0,150.0 C469.3,154.7 472.0,161.3 474.0,168.0 C476.0,174.7 478.4,184.3 480.0,190.0 C481.6,195.7 483.1,199.1 483.5,202.0 C483.9,204.9 482.7,206.6 482.5,207.5" />
<path d="M267.0,232.7 C268.0,231.7 270.3,230.7 272.3,230.7 C274.3,230.7 277.4,231.5 279.0,232.7 C280.6,233.9 281.0,236.0 281.7,238.0 C282.4,240.0 282.3,241.8 283.0,244.7 C283.7,247.6 284.4,250.9 285.7,255.3 C287.0,259.7 289.0,265.3 291.0,271.3 C293.0,277.3 295.9,285.5 297.7,291.3 C299.5,297.1 301.1,302.4 301.7,306.0 C302.2,309.6 301.9,311.1 301.0,312.7 C300.1,314.2 298.0,315.3 296.3,315.3 C294.6,315.3 292.8,315.4 291.0,312.7 C289.2,310.0 288.4,306.6 285.7,299.3 C283.0,292.0 277.9,277.6 275.0,268.7 C272.1,259.8 269.8,251.3 268.3,246.0 C266.9,240.7 266.5,238.9 266.3,236.7 C266.1,234.5 266.0,233.7 267.0,232.7 Z" stroke-width="1"/>
<path d="M277.5,261.4 L294.0,309.9 A2.65,2.65 0 0 0 299.0,308.1 L282.5,259.6 A2.65,2.65 0 0 0 277.5,261.4 Z"/>
<path d="M279.8,262.8 L296.3,308.8" stroke="#555"/>
<ellipse cx="273.2" cy="240.2" rx="4.0" ry="2.3" transform="rotate(60 273.2 240.2)" />
<path d="M281.7,238.0 C282.1,238.1 283.4,237.3 284.0,238.5 C284.6,239.7 284.8,242.2 285.5,245.0 C286.2,247.8 286.6,250.3 288.0,255.0 C289.4,259.7 292.0,266.8 294.0,273.0 C296.0,279.2 298.4,286.5 300.0,292.0 C301.6,297.5 303.1,302.7 303.5,306.0 C303.9,309.3 302.7,311.0 302.5,312.0" />
<path d="M281.5,262 L295.5,307.5" stroke="#666"/>
<path d="M420.7,163.6 L422.2,158.8 L418.8,152.9 L413.9,151.8 L412.4,156.6 L415.8,162.5 Z" stroke-width="1"/>
<line x1="422.0" y1="160.7" x2="435.9" y2="152.8" />
<line x1="417.0" y1="152.1" x2="430.9" y2="144.2" />
<ellipse cx="419.5" cy="156.4" rx="5.0" ry="2.9" transform="rotate(60 419.5 156.4)" />
<path d="M435.9,152.8 A5.0,2.9 60 0 0 430.9,144.2" />
<line x1="435.0" y1="151.4" x2="443.1" y2="146.7" />
<line x1="431.8" y1="145.6" x2="439.9" y2="140.9" />
<ellipse cx="433.4" cy="148.5" rx="3.3" ry="1.9" transform="rotate(60 433.4 148.5)" />
<path d="M443.1,146.7 A3.3,1.9 60 0 0 439.9,140.9" />
<line x1="288.5" y1="234.1" x2="295.5" y2="229.9" />
<line x1="285.5" y1="228.9" x2="292.5" y2="224.7" />
<ellipse cx="287.0" cy="231.5" rx="3.0" ry="1.7" transform="rotate(60 287.0 231.5)" />
<path d="M295.5,229.9 A3.0,1.7 60 0 0 292.5,224.7" />
<line x1="296.0" y1="230.8" x2="309.0" y2="223.3" />
<line x1="292.0" y1="223.8" x2="305.0" y2="216.3" />
<ellipse cx="294.0" cy="227.3" rx="4.0" ry="2.3" transform="rotate(60 294.0 227.3)" />
<path d="M309.0,223.3 A4.0,2.3 60 0 0 305.0,216.3" />
<path d="M312.9,224.9 L314.4,220.1 L311.0,214.2 L306.1,213.1 L304.6,217.9 L308.0,223.8 Z" stroke-width="1"/>
<path d="M303.9,214.4 L302.5,219.1 L305.9,225.0 L310.7,226.1" />
<line x1="306.1" y1="213.1" x2="303.9" y2="214.4" />
<line x1="312.9" y1="224.9" x2="310.7" y2="226.1" />
<path d="M448.1,145.6 L447.0,140.3 L442.9,136.6 L439.9,138.4 L441.0,143.7 L445.1,147.4 Z" stroke-width="1.1"/>
<path d="M447.3,146.1 L450.3,144.4 L449.2,139.0 L445.1,135.4" />
<line x1="445.1" y1="147.4" x2="447.3" y2="146.1" />
<line x1="448.1" y1="145.6" x2="450.3" y2="144.4" />
<line x1="447.0" y1="140.3" x2="449.2" y2="139.0" />
<line x1="442.9" y1="136.6" x2="445.1" y2="135.4" />
<ellipse cx="444.0" cy="142.0" rx="3.0" ry="1.7" transform="rotate(60 444.0 142.0)" />
<path d="M288.3,237.1 L287.2,231.8 L283.1,228.1 L280.1,229.9 L281.2,235.2 L285.3,238.9 Z" stroke-width="1.1"/>
<path d="M287.5,237.6 L290.5,235.9 L289.4,230.5 L285.3,226.9" />
<line x1="285.3" y1="238.9" x2="287.5" y2="237.6" />
<line x1="288.3" y1="237.1" x2="290.5" y2="235.9" />
<line x1="287.2" y1="231.8" x2="289.4" y2="230.5" />
<line x1="283.1" y1="228.1" x2="285.3" y2="226.9" />
<ellipse cx="284.2" cy="233.5" rx="3.0" ry="1.7" transform="rotate(60 284.2 233.5)" />
<line x1="231.2" y1="313.6" x2="274.1" y2="288.6" />
<line x1="226.8" y1="306.0" x2="269.7" y2="281.0" />
<ellipse cx="229.0" cy="309.8" rx="4.4" ry="2.6" transform="rotate(60 229.0 309.8)" />
<path d="M274.1,288.6 A4.4,2.6 60 0 0 269.7,281.0" />
<path d="M232.2,315.9 A6.9,4.1 60 0 0 225.4,303.9" />
<ellipse cx="227.3" cy="310.8" rx="6.9" ry="4.1" transform="rotate(60 227.3 310.8)" stroke-width="1" fill="#fff"/>
<path d="M252.6,300.7 A4.4,2.6 60 0 0 248.2,293.1" stroke-width="1.4"/>
<line x1="476.9" y1="172.9" x2="499.8" y2="159.4" />
<line x1="472.4" y1="165.1" x2="495.2" y2="151.6" />
<ellipse cx="474.7" cy="169.0" rx="4.5" ry="2.7" transform="rotate(60 474.7 169.0)" />
<path d="M499.8,159.4 A4.5,2.7 60 0 0 495.2,151.6" />
<ellipse cx="474.7" cy="169.0" rx="3.6" ry="2.2" transform="rotate(60 474.7 169.0)" />
<ellipse cx="497.5" cy="155.5" rx="6.3" ry="3.8" transform="rotate(60 497.5 155.5)" />
<path d="M502.5,159.9 A6.3,3.8 60 0 0 496.2,148.9" />
<line x1="436.5" y1="196.9" x2="454.0" y2="186.8" />
<line x1="431.5" y1="188.3" x2="449.0" y2="178.2" />
<ellipse cx="434.0" cy="192.6" rx="5.0" ry="3.1" transform="rotate(60 434.0 192.6)" />
<path d="M454.0,186.8 A5.0,3.1 60 0 0 449.0,178.2" />
<ellipse cx="434.0" cy="192.6" rx="3.5" ry="2.0" transform="rotate(60 434.0 192.6)" />
<line x1="430.8" y1="188.3" x2="451.1" y2="176.5" stroke-width="1.6"/>
<ellipse cx="452.5" cy="182.0" rx="8.5" ry="5.1" transform="rotate(60 452.5 182.0)" />
<path d="M459.2,188.0 A8.5,5.1 60 0 0 450.8,173.2" />
<ellipse cx="299.2" cy="267.7" rx="8.5" ry="5.2" transform="rotate(60 299.2 267.7)" />
<ellipse cx="299.5" cy="267.6" rx="5.5" ry="3.4" transform="rotate(60 299.5 267.6)" />
<path d="M305.2,274.1 A8.5,5.2 60 0 0 296.8,259.3" />
<line x1="304.6" y1="271.8" x2="324.7" y2="263.3" />
<line x1="298.4" y1="261.0" x2="318.5" y2="252.5" />
<ellipse cx="301.5" cy="266.4" rx="6.2" ry="3.8" transform="rotate(60 301.5 266.4)" />
<path d="M324.7,263.3 A6.2,3.8 60 0 0 318.5,252.5" />
<line x1="361.0" y1="241.5" x2="374.1" y2="233.9" />
<line x1="354.8" y1="230.7" x2="367.9" y2="223.1" />
<ellipse cx="357.9" cy="236.1" rx="6.2" ry="3.7" transform="rotate(60 357.9 236.1)" />
<path d="M374.1,233.9 A6.2,3.7 60 0 0 367.9,223.1" />
<ellipse cx="357.9" cy="236.1" rx="4.2" ry="2.4" transform="rotate(60 357.9 236.1)" />
<line x1="386.0" y1="225.7" x2="397.5" y2="219.2" />
<line x1="380.0" y1="215.3" x2="391.5" y2="208.8" />
<ellipse cx="383.0" cy="220.5" rx="6.0" ry="3.6" transform="rotate(60 383.0 220.5)" />
<path d="M397.5,219.2 A6.0,3.6 60 0 0 391.5,208.8" />
<ellipse cx="381.5" cy="221.7" rx="9.5" ry="5.7" transform="rotate(60 381.5 221.7)" fill="#fff"/>
<ellipse cx="380.0" cy="222.5" rx="9.5" ry="5.7" transform="rotate(60 380.0 222.5)" fill="#fff"/>
<ellipse cx="380.6" cy="222.2" rx="5.5" ry="3.3" transform="rotate(60 380.6 222.2)" />
<line x1="453.2" y1="270.4" x2="466.5" y2="262.7" />
<line x1="444.2" y1="254.8" x2="457.5" y2="247.1" />
<ellipse cx="448.7" cy="262.6" rx="9.0" ry="5.4" transform="rotate(60 448.7 262.6)" />
<path d="M466.5,262.7 A9.0,5.4 60 0 0 457.5,247.1" />
<ellipse cx="448.7" cy="262.6" rx="9.2" ry="5.5" transform="rotate(60 448.7 262.6)" stroke-width="1.1"/>
<path d="M459.5,266.8 A9.0,5.4 60 0 0 450.5,251.2" />
<path d="M461.5,265.6 A9.0,5.4 60 0 0 452.5,250.0" />
<ellipse cx="467.2" cy="252.2" rx="11.0" ry="6.4" transform="rotate(60 467.2 252.2)" />
<path d="M474.3,260.8 A11.0,6.4 60 0 0 463.3,241.8" />
<line x1="286.9" y1="368.2" x2="307.8" y2="356.3" />
<line x1="276.4" y1="350.0" x2="297.2" y2="338.1" />
<ellipse cx="281.6" cy="359.1" rx="10.5" ry="6.3" transform="rotate(60 281.6 359.1)" />
<path d="M307.8,356.3 A10.5,6.3 60 0 0 297.2,338.1" />
<ellipse cx="281.6" cy="359.1" rx="8.5" ry="4.9" transform="rotate(60 281.6 359.1)" />
<line x1="285.8" y1="344.4" x2="296.2" y2="362.6" />
<line x1="288.8" y1="342.9" x2="299.2" y2="361.1" />
<line x1="574.5" y1="211.1" x2="589.2" y2="203.0" />
<line x1="567.2" y1="198.5" x2="582.0" y2="190.4" />
<ellipse cx="570.9" cy="204.8" rx="7.3" ry="4.4" transform="rotate(60 570.9 204.8)" />
<path d="M589.2,203.0 A7.3,4.4 60 0 0 582.0,190.4" />
<ellipse cx="570.9" cy="204.8" rx="5.0" ry="2.9" transform="rotate(60 570.9 204.8)" />
<ellipse cx="620.1" cy="177.8" rx="10.0" ry="6.0" transform="rotate(60 620.1 177.8)" />
<path d="M626.8,185.5 A10.0,6.0 60 0 0 616.8,168.1" />
<line x1="613.0" y1="188.2" x2="620.4" y2="184.1" />
<line x1="606.2" y1="176.4" x2="613.6" y2="172.3" />
<ellipse cx="609.6" cy="182.3" rx="6.8" ry="4.1" transform="rotate(60 609.6 182.3)" />
<path d="M620.4,184.1 A6.8,4.1 60 0 0 613.6,172.3" />
<ellipse cx="609.6" cy="182.3" rx="4.6" ry="2.7" transform="rotate(60 609.6 182.3)" />
<ellipse cx="609.6" cy="182.3" rx="6.8" ry="4.1" transform="rotate(60 609.6 182.3)" fill="#fff"/>
<ellipse cx="609.6" cy="182.3" rx="4.6" ry="2.8" transform="rotate(60 609.6 182.3)" />
<path d="M610.6,146.5 L612.6,146.5 L612.6,157.0 L610.6,157.0 Z" />
<ellipse cx="466.9" cy="128.1" rx="10.8" ry="6.3" transform="rotate(60 466.9 128.1)" stroke-width="1"/>
<ellipse cx="466.9" cy="128.1" rx="5.0" ry="2.9" transform="rotate(60 466.9 128.1)" />
<ellipse cx="261.2" cy="247.6" rx="10.6" ry="6.1" transform="rotate(60 261.2 247.6)" stroke-width="1"/>
<ellipse cx="261.2" cy="247.6" rx="4.6" ry="2.7" transform="rotate(60 261.2 247.6)" />
<ellipse cx="482.7" cy="240.2" rx="9.8" ry="5.7" transform="rotate(60 482.7 240.2)" stroke-width="1"/>
<ellipse cx="482.7" cy="240.2" rx="7.6" ry="4.4" transform="rotate(60 482.7 240.2)" />
<ellipse cx="264.7" cy="368.9" rx="11.0" ry="6.4" transform="rotate(60 264.7 368.9)" stroke-width="1"/>
<ellipse cx="264.7" cy="368.9" rx="8.6" ry="5.0" transform="rotate(60 264.7 368.9)" />
<ellipse cx="608.0" cy="233.2" rx="5.5" ry="3.2" transform="rotate(60 608.0 233.2)" stroke-width="1"/>
<ellipse cx="608.0" cy="233.2" rx="2.4" ry="1.4" transform="rotate(60 608.0 233.2)" />
<ellipse cx="227.6" cy="453.5" rx="5.8" ry="3.4" transform="rotate(60 227.6 453.5)" stroke-width="1"/>
<ellipse cx="227.6" cy="453.5" rx="2.5" ry="1.4" transform="rotate(60 227.6 453.5)" />
<path d="M639.7,336.7 L638.8,332.2 L635.4,329.2 L632.9,330.7 L633.8,335.1 L637.2,338.2 Z" stroke-width="1.1"/>
<path d="M639.8,336.7 L642.3,335.2 L641.4,330.8 L638.0,327.7" />
<line x1="637.2" y1="338.2" x2="639.8" y2="336.7" />
<line x1="639.7" y1="336.7" x2="642.3" y2="335.2" />
<line x1="638.8" y1="332.2" x2="641.4" y2="330.8" />
<line x1="635.4" y1="329.2" x2="638.0" y2="327.7" />
<ellipse cx="636.3" cy="333.7" rx="2.5" ry="1.4" transform="rotate(60 636.3 333.7)" />
<path d="M651.0,331.2 L649.9,325.9 L645.8,322.2 L642.8,324.0 L643.9,329.3 L648.0,333.0 Z" stroke-width="1.1"/>
<path d="M650.6,331.5 L653.6,329.7 L652.5,324.4 L648.4,320.7" />
<line x1="648.0" y1="333.0" x2="650.6" y2="331.5" />
<line x1="651.0" y1="331.2" x2="653.6" y2="329.7" />
<line x1="649.9" y1="325.9" x2="652.5" y2="324.4" />
<line x1="645.8" y1="322.2" x2="648.4" y2="320.7" />
<ellipse cx="646.9" cy="327.6" rx="3.0" ry="1.7" transform="rotate(60 646.9 327.6)" />
<ellipse cx="627.2" cy="222.8" rx="6.0" ry="3.6" transform="rotate(60 627.2 222.8)" stroke="#555"/>
<line x1="627.2" y1="229.8" x2="630.2" y2="228.0" />
<line x1="621.2" y1="219.4" x2="624.2" y2="217.7" />
<ellipse cx="624.2" cy="224.6" rx="6.0" ry="3.6" transform="rotate(60 624.2 224.6)" stroke-width="1.3" fill="#fff"/>
<ellipse cx="624.2" cy="224.6" rx="3.6" ry="2.2" transform="rotate(60 624.2 224.6)" />
<ellipse cx="690.2" cy="309.1" rx="5.8" ry="3.5" transform="rotate(60 690.2 309.1)" stroke="#555"/>
<line x1="690.1" y1="315.8" x2="693.1" y2="314.1" />
<line x1="684.3" y1="305.8" x2="687.3" y2="304.0" />
<ellipse cx="687.2" cy="310.8" rx="5.8" ry="3.5" transform="rotate(60 687.2 310.8)" stroke-width="1.3" fill="#fff"/>
<ellipse cx="687.2" cy="310.8" rx="3.5" ry="2.1" transform="rotate(60 687.2 310.8)" />
<ellipse cx="665.8" cy="322.3" rx="6.3" ry="3.8" transform="rotate(60 665.8 322.3)" stroke-width="1.2"/>
<ellipse cx="667.3" cy="321.4" rx="6.3" ry="3.8" transform="rotate(60 667.3 321.4)" stroke-width="1.2"/>
<ellipse cx="668.8" cy="320.6" rx="6.3" ry="3.8" transform="rotate(60 668.8 320.6)" stroke-width="1.2"/>
<ellipse cx="665.8" cy="322.3" rx="3.3" ry="2.0" transform="rotate(60 665.8 322.3)" />
<g transform="translate(347.5,285.5) scale(0.85)"><path d="M5.8,-6 C-1.2,-10 -7.2,-4 -4.2,1 C-3.2,5 1.8,8 6.8,6 L4.8,4 C2.8,5 -0.2,4 -1.2,2 C-3.2,-1 -0.2,-5 3.8,-3.5 Z"/></g>
<g transform="translate(369.2,362) scale(0.85)"><path d="M5.8,-6 C-1.2,-10 -7.2,-4 -4.2,1 C-3.2,5 1.8,8 6.8,6 L4.8,4 C2.8,5 -0.2,4 -1.2,2 C-3.2,-1 -0.2,-5 3.8,-3.5 Z"/></g>
<ellipse cx="378.8" cy="488.0" rx="3.5" ry="2.1" transform="rotate(60 378.8 488.0)" />
<line x1="380.6" y1="491.0" x2="399.2" y2="479.3" />
<line x1="377.1" y1="485.0" x2="395.8" y2="473.3" />
<ellipse cx="378.8" cy="488.0" rx="3.5" ry="2.1" transform="rotate(60 378.8 488.0)" />
<path d="M399.2,479.3 A3.5,2.1 60 0 0 395.8,473.3" />
</g>
<g stroke="#5a5af0" stroke-width="1" fill="none">
<line x1="475.3" y1="106.1" x2="464.3" y2="122.2"/>
<line x1="439.9" y1="113.8" x2="450.8" y2="128"/>
<line x1="427.4" y1="124.1" x2="443.1" y2="137.6"/>
<line x1="400" y1="142.8" x2="423.8" y2="151.8"/>
<line x1="520.7" y1="152.9" x2="498.1" y2="157.2"/>
<line x1="408.3" y1="188.8" x2="437.8" y2="188.4"/>
<line x1="611.8" y1="147.6" x2="622" y2="143.7"/>
<line x1="625" y1="176.6" x2="635" y2="172.5"/>
<line x1="575" y1="177.5" x2="574.5" y2="190"/>
<line x1="609.9" y1="216" x2="607.3" y2="229"/>
<line x1="630.5" y1="221.5" x2="641.5" y2="217.5"/>
<line x1="254.8" y1="219.9" x2="269.9" y2="233.5"/>
<line x1="284.9" y1="208.3" x2="283.4" y2="229.6"/>
<line x1="312.7" y1="207.8" x2="308.5" y2="219.9"/>
<line x1="372.6" y1="203.1" x2="383.8" y2="212.2"/>
<line x1="351" y1="219.9" x2="358.3" y2="227.1"/>
<line x1="237.6" y1="247.6" x2="254.8" y2="246.4"/>
<line x1="320" y1="243.7" x2="314.3" y2="257.6"/>
<line x1="242.8" y1="281.2" x2="256.4" y2="290.8"/>
<line x1="326.8" y1="290.8" x2="344.2" y2="284.6"/>
<line x1="485.2" y1="223.8" x2="481.7" y2="234"/>
<line x1="435.8" y1="239.2" x2="451.4" y2="252.8"/>
<line x1="501" y1="248" x2="513.6" y2="300"/>
<line x1="630.5" y1="310.2" x2="634.4" y2="331.4"/>
<line x1="653.1" y1="308.2" x2="649.2" y2="323.1"/>
<line x1="682" y1="294.1" x2="689.4" y2="306.7"/>
<line x1="685.9" y1="333.7" x2="673.9" y2="321.2"/>
<line x1="646" y1="371.8" x2="610.6" y2="362.3"/>
<line x1="247.6" y1="346.5" x2="258.9" y2="362.1"/>
<line x1="324.4" y1="349" x2="302.1" y2="351.4"/>
<line x1="218" y1="362.1" x2="231.6" y2="376.3"/>
<line x1="358.4" y1="372.4" x2="365.2" y2="361.1"/>
<line x1="131.5" y1="410.7" x2="148" y2="424.3"/>
<line x1="188.5" y1="402.9" x2="200.5" y2="412.6"/>
<line x1="173.3" y1="417.5" x2="194.7" y2="420.4"/>
<line x1="176.2" y1="456.4" x2="192.4" y2="444.7"/>
<line x1="309.8" y1="424.7" x2="247.6" y2="436.7"/>
<line x1="204.1" y1="472.4" x2="209" y2="465.7"/>
<line x1="222.1" y1="473" x2="227.3" y2="458.9"/>
<line x1="348.3" y1="472.8" x2="384.9" y2="480.8"/>
<line x1="638.2" y1="486.5" x2="681.7" y2="515"/>
<line x1="756" y1="524.7" x2="731.3" y2="518"/>
<line x1="665.8" y1="584.1" x2="630.7" y2="575.1"/>
<line x1="301.7" y1="607.6" x2="336.6" y2="615.7"/>
<line x1="433.9" y1="645.7" x2="400.3" y2="638.2"/>
<line x1="505.4" y1="500.4" x2="512.5" y2="501.6"/>
</g>
<g fill="#000" stroke="#000" stroke-width="12" font-family="Liberation Sans" font-size="1000">
<text transform="matrix(0.01591,0,0,0.01662,475.80,106.85)">22</text>
<text transform="matrix(0.01331,0,0,0.01638,432.99,111.09)">16</text>
<text transform="matrix(0.01273,0,0,0.01662,412.56,127.20)">21</text>
<text transform="matrix(0.01408,0,0,0.01638,382.90,145.64)">20</text>
<text transform="matrix(0.01369,0,0,0.01686,520.76,157.30)">17</text>
<text transform="matrix(0.01339,0,0,0.01638,392.68,193.74)">18</text>
<text transform="matrix(0.01183,0,0,0.01686,621.70,146.90)">11</text>
<text transform="matrix(0.01264,0,0,0.01638,634.34,173.19)">10</text>
<text transform="matrix(0.01611,0,0,0.01638,568.59,172.99)">32</text>
<text transform="matrix(0.01621,0,0,0.01638,604.29,213.79)">23</text>
<text transform="matrix(0.01607,0,0,0.01662,641.20,221.20)">24</text>
<text transform="matrix(0.01361,0,0,0.01638,240.87,219.49)">16</text>
<text transform="matrix(0.01303,0,0,0.01662,281.15,205.65)">21</text>
<text transform="matrix(0.01437,0,0,0.01638,310.08,205.64)">20</text>
<text transform="matrix(0.01483,0,0,0.01638,360.44,200.99)">34</text>
<text transform="matrix(0.01361,0,0,0.01638,338.37,219.14)">13</text>
<text transform="matrix(0.01581,0,0,0.01662,219.81,253.35)">22</text>
<text transform="matrix(0.01299,0,0,0.01638,313.31,242.19)">18</text>
<text transform="matrix(0.01602,0,0,0.01638,227.69,281.29)">33</text>
<text transform="matrix(0.01375,0,0,0.01638,311.65,296.74)">19</text>
<text transform="matrix(0.01459,0,0,0.01662,479.69,220.33)">15</text>
<text transform="matrix(0.01301,0,0,0.01686,423.81,237.00)">14</text>
<text transform="matrix(0.01580,0,0,0.01638,515.86,312.89)">9</text>
<text transform="matrix(0.01621,0,0,0.01662,621.99,307.40)">27</text>
<text transform="matrix(0.01609,0,0,0.01638,647.10,305.94)">28</text>
<text transform="matrix(0.01259,0,0,0.01638,673.12,291.54)">31</text>
<text transform="matrix(0.01401,0,0,0.01638,683.07,345.94)">30</text>
<text transform="matrix(0.01429,0,0,0.01686,646.17,377.40)">4</text>
<text transform="matrix(0.01378,0,0,0.01662,235.45,342.68)">15</text>
<text transform="matrix(0.01291,0,0,0.01686,324.42,353.05)">14</text>
<text transform="matrix(0.01339,0,0,0.01662,203.28,361.25)">12</text>
<text transform="matrix(0.01375,0,0,0.01638,346.35,384.99)">19</text>
<text transform="matrix(0.01624,0,0,0.01638,122.58,411.19)">3</text>
<text transform="matrix(0.01772,0,0,0.01662,179.39,400.78)">5</text>
<text transform="matrix(0.01723,0,0,0.01638,163.86,418.79)">8</text>
<text transform="matrix(0.01692,0,0,0.01638,166.64,463.49)">6</text>
<text transform="matrix(0.01341,0,0,0.01686,312.62,429.90)">7</text>
<text transform="matrix(0.01588,0,0,0.01662,186.91,479.90)">24</text>
<text transform="matrix(0.01611,0,0,0.01638,213.99,485.54)">23</text>
<text transform="matrix(0.01611,0,0,0.01638,331.79,474.49)">26</text>
<text transform="matrix(0.01645,0,0,0.01662,628.98,488.40)">2</text>
<text transform="matrix(0.01730,0,0,0.01638,756.14,529.99)">3</text>
<text transform="matrix(0.01392,0,0,0.01686,666.54,590.55)">1</text>
<text transform="matrix(0.01714,0,0,0.01638,282.24,608.14)">29</text>
<text transform="matrix(0.01686,0,0,0.01638,433.96,652.24)">25</text>
</g>
</svg>
</body></html>
